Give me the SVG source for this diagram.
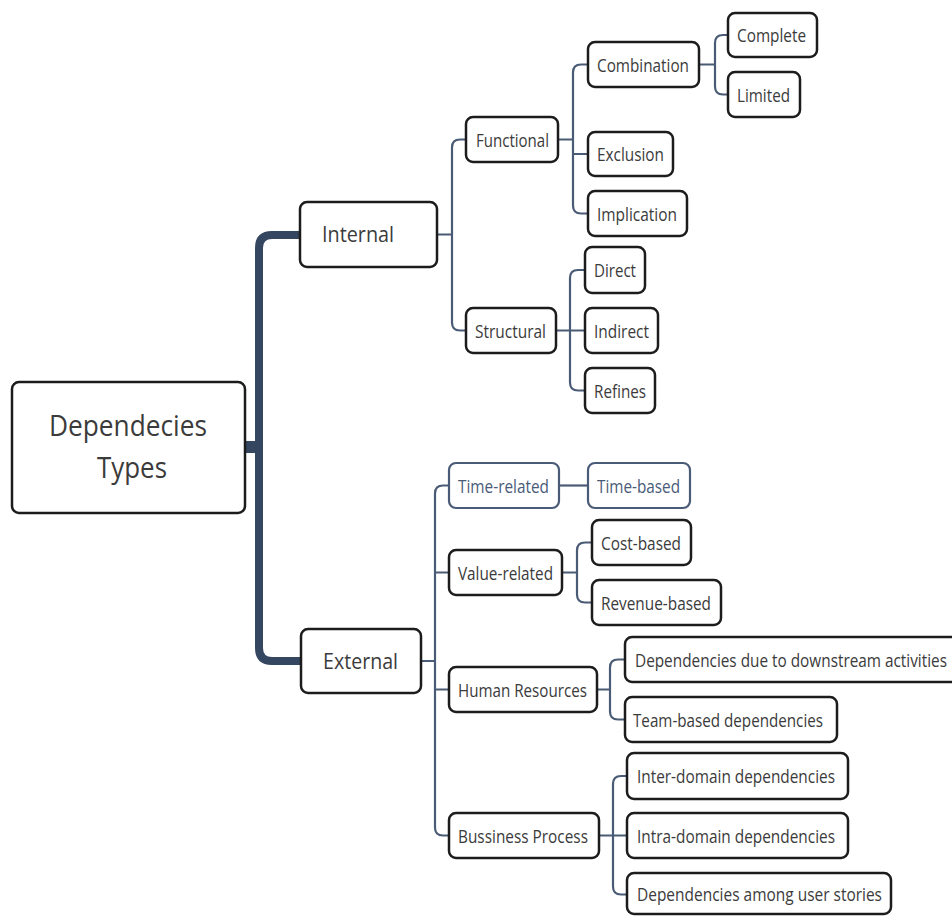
<svg xmlns="http://www.w3.org/2000/svg" width="952" height="916" viewBox="0 0 952 916">
<style>
.n rect{fill:#fff;stroke:#1c1c1c;stroke-width:2.5}
.n.s rect{stroke:#4a5b78;stroke-width:2.2}
text{font-family:"Open Sans","Liberation Sans",sans-serif;fill:#3b3b3b;font-size:19px}
.n.s text{fill:#4a5b78}
.big{font-size:22px}
.root{font-size:30px}
.c path{fill:none;stroke:#4a5b75;stroke-width:2.2}
.c path.trunk{stroke:#344660;stroke-width:8}
</style>
<rect width="952" height="916" fill="#fff"/>
<g id="connectors" class="c">
<rect x="244" y="441" width="16" height="12" fill="#344660"/>
<path class="trunk" d="M300,235 H272 Q259,235 259,248 V648 Q259,661 272,661 H301"/>
<path d="M437,234.5 H452 M466,139.5 H460 Q452,139.5 452,147.5 V322.5 Q452,330.5 460,330.5 H466"/>
<path d="M558,139.5 H573 M588,64.5 H581 Q573,64.5 573,72.5 V205.5 Q573,213.5 581,213.5 H588 M573,154 H588"/>
<path d="M699,64.5 H715 M728,35 H723 Q715,35 715,43 V86.5 Q715,94.5 723,94.5 H728"/>
<path d="M556,330.5 H585 M585,270 H578 Q570,270 570,278 V382.5 Q570,390.5 578,390.5 H585"/>
<path d="M421,661 H435 M449,485.5 H443 Q435,485.5 435,493.5 V827.5 Q435,835.5 443,835.5 H449 M435,572.5 H449 M435,689.5 H449"/>
<path d="M559,485.5 H588"/>
<path d="M562,572.5 H577 M592,542.5 H585 Q577,542.5 577,550.5 V594.5 Q577,602.5 585,602.5 H592"/>
<path d="M597,689.5 H610 M625,659.5 H618 Q610,659.5 610,667.5 V711.5 Q610,719.5 618,719.5 H625"/>
<path d="M599,835.5 H627 M627,776 H621 Q613,776 613,784 V886.5 Q613,894.5 621,894.5 H627"/>
</g>
<g id="root" class="n"><rect x="12" y="382" width="233" height="131" rx="7"/><text class="root" x="49" y="436" textLength="158" lengthAdjust="spacingAndGlyphs">Dependecies</text><text class="root" x="97" y="478" textLength="70" lengthAdjust="spacingAndGlyphs">Types</text></g>
<g id="internal" class="n"><rect x="300" y="202" width="137" height="65" rx="7"/><text class="big" x="322" y="242" textLength="72" lengthAdjust="spacingAndGlyphs">Internal</text></g>
<g id="external" class="n"><rect x="301" y="629" width="120" height="64" rx="7"/><text class="big" x="323" y="668.5" textLength="75" lengthAdjust="spacingAndGlyphs">External</text></g>
<g id="functional" class="n"><rect x="466" y="117" width="92" height="45" rx="7"/><text x="476" y="146.5" textLength="73" lengthAdjust="spacingAndGlyphs">Functional</text></g>
<g id="combination" class="n"><rect x="588" y="42" width="111" height="45" rx="7"/><text x="597" y="71.5" textLength="92" lengthAdjust="spacingAndGlyphs">Combination</text></g>
<g id="complete" class="n"><rect x="728" y="13" width="89" height="44" rx="7"/><text x="737" y="42" textLength="69" lengthAdjust="spacingAndGlyphs">Complete</text></g>
<g id="limited" class="n"><rect x="728" y="72" width="72" height="45" rx="7"/><text x="737" y="101.5" textLength="53" lengthAdjust="spacingAndGlyphs">Limited</text></g>
<g id="exclusion" class="n"><rect x="588" y="132" width="85" height="44" rx="7"/><text x="597" y="161" textLength="67" lengthAdjust="spacingAndGlyphs">Exclusion</text></g>
<g id="implication" class="n"><rect x="588" y="191" width="99" height="45" rx="7"/><text x="597" y="220.5" textLength="80" lengthAdjust="spacingAndGlyphs">Implication</text></g>
<g id="structural" class="n"><rect x="466" y="308" width="90" height="45" rx="7"/><text x="475" y="337.5" textLength="71" lengthAdjust="spacingAndGlyphs">Structural</text></g>
<g id="direct" class="n"><rect x="585" y="247" width="60" height="46" rx="7"/><text x="594" y="277" textLength="42" lengthAdjust="spacingAndGlyphs">Direct</text></g>
<g id="indirect" class="n"><rect x="585" y="308" width="73" height="45" rx="7"/><text x="594" y="337.5" textLength="55" lengthAdjust="spacingAndGlyphs">Indirect</text></g>
<g id="refines" class="n"><rect x="585" y="368" width="70" height="45" rx="7"/><text x="594" y="397.5" textLength="52" lengthAdjust="spacingAndGlyphs">Refines</text></g>
<g id="time-related" class="n s"><rect x="449" y="463" width="110" height="45" rx="7"/><text x="458" y="492.5" textLength="91" lengthAdjust="spacingAndGlyphs">Time-related</text></g>
<g id="time-based" class="n s"><rect x="588" y="463" width="102" height="45" rx="7"/><text x="597" y="492.5" textLength="83" lengthAdjust="spacingAndGlyphs">Time-based</text></g>
<g id="value-related" class="n"><rect x="449" y="550" width="113" height="45" rx="7"/><text x="458" y="579.5" textLength="95" lengthAdjust="spacingAndGlyphs">Value-related</text></g>
<g id="cost-based" class="n"><rect x="592" y="520" width="99" height="45" rx="7"/><text x="601" y="549.5" textLength="80" lengthAdjust="spacingAndGlyphs">Cost-based</text></g>
<g id="revenue-based" class="n"><rect x="592" y="580" width="129" height="45" rx="7"/><text x="601" y="609.5" textLength="110" lengthAdjust="spacingAndGlyphs">Revenue-based</text></g>
<g id="human-resources" class="n"><rect x="449" y="667" width="148" height="45" rx="7"/><text x="458" y="696.5" textLength="129" lengthAdjust="spacingAndGlyphs">Human Resources</text></g>
<g id="downstream" class="n"><rect x="625" y="637" width="340" height="45" rx="7"/><text x="635" y="666.5" textLength="312" lengthAdjust="spacingAndGlyphs">Dependencies due to downstream activities</text></g>
<g id="team-based" class="n"><rect x="625" y="697" width="212" height="45" rx="7"/><text x="633" y="726.5" textLength="190" lengthAdjust="spacingAndGlyphs">Team-based dependencies</text></g>
<g id="business-process" class="n"><rect x="449" y="813" width="150" height="45" rx="7"/><text x="458" y="842.5" textLength="130" lengthAdjust="spacingAndGlyphs">Bussiness Process</text></g>
<g id="inter-domain" class="n"><rect x="627" y="753" width="221" height="46" rx="7"/><text x="637" y="783" textLength="198" lengthAdjust="spacingAndGlyphs">Inter-domain dependencies</text></g>
<g id="intra-domain" class="n"><rect x="627" y="813" width="221" height="45" rx="7"/><text x="637" y="842.5" textLength="198" lengthAdjust="spacingAndGlyphs">Intra-domain dependencies</text></g>
<g id="user-stories" class="n"><rect x="627" y="873" width="264" height="41" rx="7"/><text x="637" y="901" textLength="245" lengthAdjust="spacingAndGlyphs">Dependencies among user stories</text></g>
</svg>
